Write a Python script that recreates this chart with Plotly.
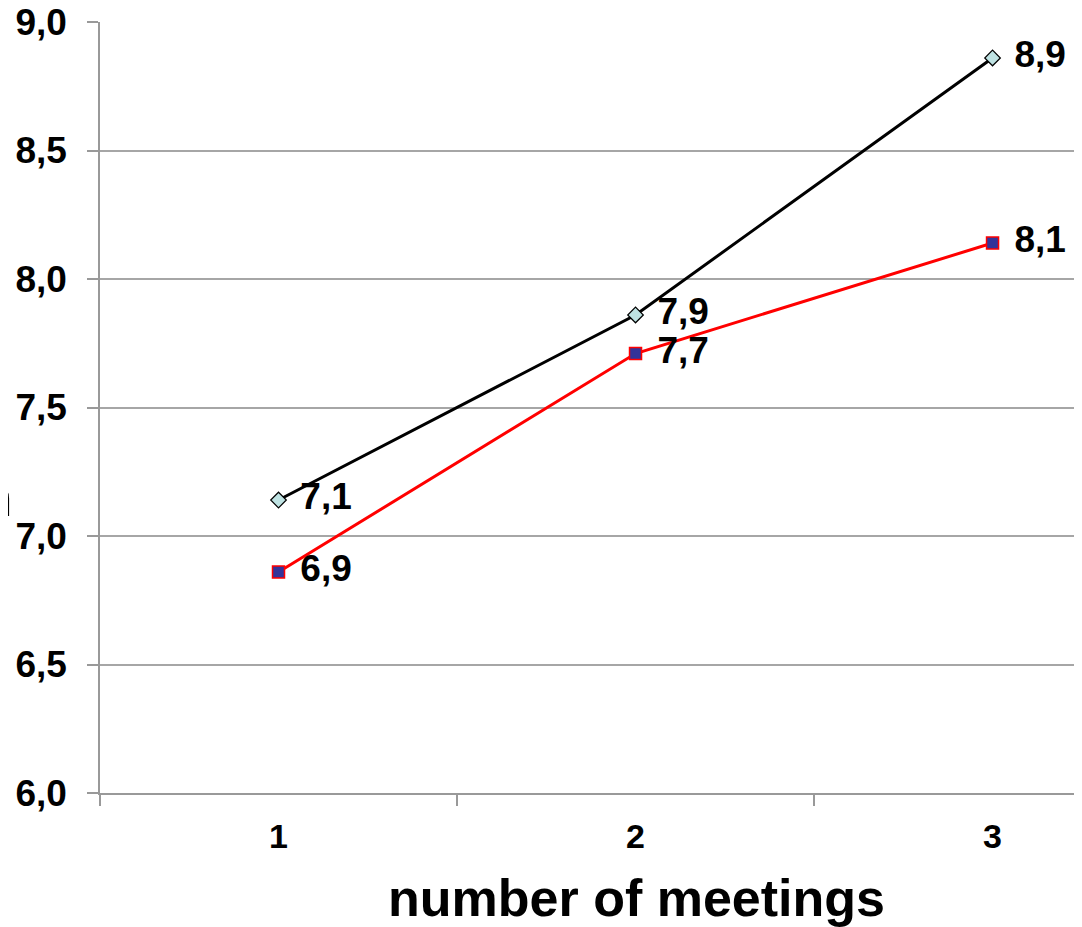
import plotly.graph_objects as go

meetings = ["1", "2", "3"]
series_black = [7.14, 7.86, 8.86]
series_red = [6.86, 7.71, 8.14]
y_ticks = [6.0, 6.5, 7.0, 7.5, 8.0, 8.5, 9.0]
x_title = "number of meetings"


def fmt(v):
    return f"{v:.1f}".replace(".", ",")


FONT = "Liberation Sans, Arial, sans-serif"
PAD = " \u200a"

fig = go.Figure()
fig.add_trace(go.Scatter(
    x=meetings, y=series_black, mode="lines+markers+text",
    line=dict(color="black", width=3),
    marker=dict(symbol="diamond", size=12, color="#BFE3E3",
                line=dict(color="black", width=1.2)),
    text=[PAD + fmt(v) for v in series_black], textposition="middle right",
    textfont=dict(family=FONT, size=37, color="black", weight="bold"),
    cliponaxis=False, showlegend=False,
))
fig.add_trace(go.Scatter(
    x=meetings, y=series_red, mode="lines+markers+text",
    line=dict(color="#FF0000", width=3),
    marker=dict(symbol="square", size=12, color="#333399",
                line=dict(color="#FF0000", width=1.5)),
    text=[PAD + fmt(v) for v in series_red], textposition="middle right",
    textfont=dict(family=FONT, size=37, color="black", weight="bold"),
    cliponaxis=False, showlegend=False,
))

fig.update_layout(
    width=1082, height=927,
    margin=dict(l=92, r=0, t=14, b=142, autoexpand=False),
    plot_bgcolor="white", paper_bgcolor="white",
    separators=", ",
    font=dict(family=FONT, color="black"),
)
fig.update_xaxes(
    type="category", range=[-0.5, 2.273], automargin=False,
    showgrid=False, showline=True, linecolor="#999999", linewidth=1.5,
    ticks="outside", tickson="boundaries", ticklen=11, tickcolor="#999999", tickwidth=1.5,
    ticklabelstandoff=12,
    tickfont=dict(family=FONT, size=34, color="black", weight="bold"),
)
fig.update_yaxes(
    range=[6, 9], tickvals=y_ticks, ticktext=[fmt(v) for v in y_ticks],
    automargin=False, ticklabeloverflow="allow",
    showgrid=True, gridcolor="#A6A6A6", gridwidth=1.5,
    showline=True, linecolor="#999999", linewidth=1.5,
    ticks="outside", ticklen=11, tickcolor="#999999", tickwidth=1.5,
    ticklabelstandoff=13,
    tickfont=dict(family=FONT, size=37, color="black", weight="bold"),
    zeroline=False,
)
# axis title (centred on the full, wider-than-window plot area)
fig.add_annotation(
    text=x_title, xref="paper", yref="paper", x=(636 - 100) / 990, y=(793 - 898) / 771,
    xanchor="center", yanchor="middle", showarrow=False,
    font=dict(family=FONT, size=52, color="black", weight="bold"),
)
fig.add_annotation(
    text="n", xref="paper", yref="y", x=(6 - 92) / 990, y=7.15,
    xanchor="right", yanchor="middle", showarrow=False,
    font=dict(family=FONT, size=53, color="black", weight="bold"),
)

fig.write_html("out.html")
